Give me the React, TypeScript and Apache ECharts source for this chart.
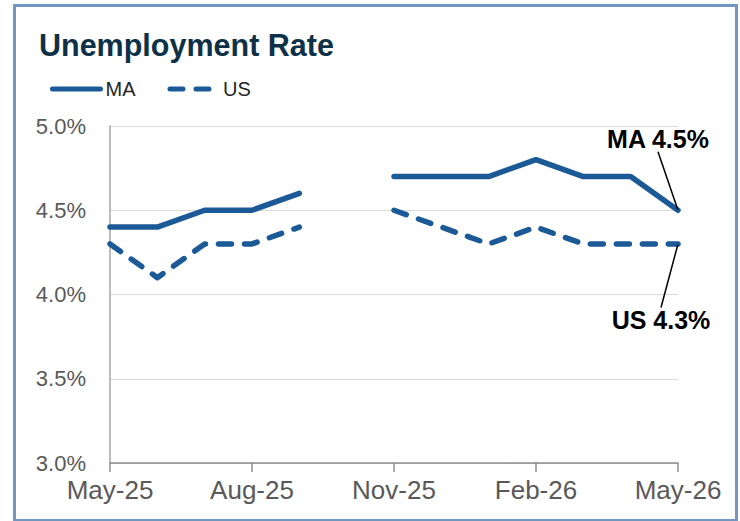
import React, { useEffect, useRef } from "react";
import * as echarts from "echarts";

const months = [
  "May-25", "Jun-25", "Jul-25", "Aug-25", "Sep-25", "Oct-25", "Nov-25",
  "Dec-25", "Jan-26", "Feb-26", "Mar-26", "Apr-26", "May-26",
];
const maRate: (number | null)[] = [4.4, 4.4, 4.5, 4.5, 4.6, null, 4.7, 4.7, 4.7, 4.8, 4.7, 4.7, 4.5];
const usRate: (number | null)[] = [4.3, 4.1, 4.3, 4.3, 4.4, null, 4.5, 4.4, 4.3, 4.4, 4.3, 4.3, 4.3];
const yMin = 3.0;
const yMax = 5.0;
const yStep = 0.5;

const FONT = "'Liberation Sans', Arial, sans-serif";
const BLUE = "#1b5a97";

function withEndLabel(values: (number | null)[], name: string) {
  const last = values.length - 1;
  return values.map((v, i) =>
    i === last
      ? {
          value: v,
          symbol: "circle",
          symbolSize: 1,
          label: {
            show: true,
            position: "inside",
            formatter: `${name} ${(v as number).toFixed(1)}%`,
            fontFamily: FONT,
            fontWeight: "bold",
            fontSize: 25,
            color: "#000000",
            padding: [4, 2, 4, 2],
          },
          labelLine: { show: true, lineStyle: { color: "#000000", width: 1.5 } },
        }
      : v
  );
}

export default function App() {
  const ref = useRef<HTMLDivElement>(null);
  useEffect(() => {
    const chart = echarts.init(ref.current!, undefined, { renderer: "svg" });
    chart.setOption({
      animation: false,
      backgroundColor: "#ffffff",
      title: {
        text: "Unemployment Rate",
        left: 34,
        top: 24,
        textStyle: { fontFamily: FONT, fontWeight: "bold", fontSize: 30.5, color: "#0e3148" },
      },
      legend: {
        left: 45,
        top: 74,
        itemWidth: 48,
        itemHeight: 14,
        itemGap: 32,
        textStyle: { fontFamily: FONT, fontSize: 20, color: "#262626" },
        itemStyle: { opacity: 0 },
        lineStyle: { width: 5, cap: "round" },
        data: ["MA", "US"],
      },
      grid: { left: 110, right: 62, top: 126, bottom: 58, containLabel: false },
      xAxis: {
        type: "category",
        data: months,
        boundaryGap: false,
        axisLine: { lineStyle: { color: "#8c8c8c", width: 1.5 } },
        axisTick: { show: true, interval: 2, length: 9, lineStyle: { color: "#8c8c8c", width: 1.5 } },
        axisLabel: { interval: 2, margin: 14, fontFamily: FONT, fontSize: 26, color: "#595959" },
        splitLine: { show: false },
      },
      yAxis: {
        type: "value",
        min: yMin,
        max: yMax,
        interval: yStep,
        axisLine: { show: true, lineStyle: { color: "#a6a6a6", width: 1.5 } },
        axisTick: { show: false },
        axisLabel: {
          margin: 24,
          fontFamily: FONT,
          fontSize: 22,
          color: "#595959",
          formatter: (v: number) => v.toFixed(1) + "%",
        },
        splitLine: { lineStyle: { color: "#d9d9d9", width: 1 } },
      },
      series: [
        {
          name: "MA",
          type: "line",
          data: withEndLabel(maRate, "MA"),
          symbol: "none",
          showSymbol: true,
          clip: false,
          connectNulls: false,
          lineStyle: { color: BLUE, width: 5.5, cap: "round", join: "round" },
          itemStyle: { color: BLUE },
          labelLayout: { dx: -20, dy: -71 },
        },
        {
          name: "US",
          type: "line",
          data: withEndLabel(usRate, "US"),
          symbol: "none",
          showSymbol: true,
          clip: false,
          connectNulls: false,
          lineStyle: { color: BLUE, width: 5.5, type: [13, 13], cap: "round", join: "round" },
          itemStyle: { color: BLUE },
          labelLayout: { dx: -17, dy: 76 },
        },
      ],
      graphic: [
        {
          type: "rect",
          left: 12,
          top: 3,
          shape: { width: 722, height: 515 },
          style: { fill: "none", stroke: "#7298c2", lineWidth: 3 },
          silent: true,
        },
      ],
    });
    return () => chart.dispose();
  }, []);
  return (
    <div
      ref={ref}
      style={{ position: "fixed", left: 0, top: 0, width: 740, height: 521 }}
    />
  );
}
